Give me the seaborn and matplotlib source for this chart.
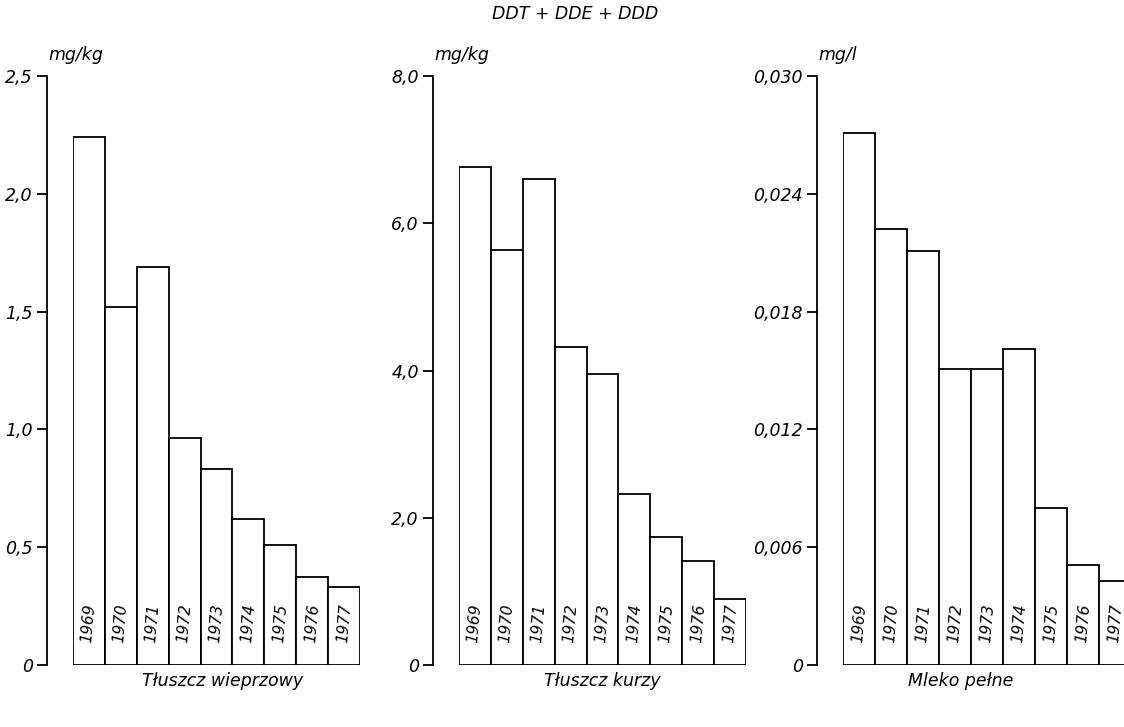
import matplotlib
matplotlib.use('Agg')
import matplotlib.pyplot as plt
import matplotlib.transforms as mtransforms
import seaborn as sns

years = ['1969', '1970', '1971', '1972', '1973', '1974', '1975', '1976', '1977']

pork_fat = [2.24, 1.52, 1.69, 0.965, 0.83, 0.62, 0.51, 0.375, 0.33]
chicken_fat = [6.76, 5.63, 6.60, 4.32, 3.95, 2.32, 1.74, 1.41, 0.90]
whole_milk = [0.0271, 0.0222, 0.0211, 0.0151, 0.0151, 0.0161, 0.0080, 0.0051, 0.0043]

pork_ticks = [0, 0.5, 1.0, 1.5, 2.0, 2.5]
pork_labels = ['0', '0,5', '1,0', '1,5', '2,0', '2,5']
chicken_ticks = [0, 2.0, 4.0, 6.0, 8.0]
chicken_labels = ['0', '2,0', '4,0', '6,0', '8,0']
milk_ticks = [0, 0.006, 0.012, 0.018, 0.024, 0.030]
milk_labels = ['0', '0,006', '0,012', '0,018', '0,024', '0,030']

panel_names = ['Tłuszcz wieprzowy', 'Tłuszcz kurzy', 'Mleko pełne']
units = ['mg/kg', 'mg/kg', 'mg/l']
title = 'DDT + DDE + DDD'


def draw_panel(ax, values, ticks, labels, unit, name, name_x):
    sns.barplot(x=years, y=values, ax=ax, color='white', edgecolor='black',
                linewidth=1.3, width=1.0, saturation=1)
    ax.set_ylim(0, ticks[-1])
    ax.set_xlim(-0.5, 8.5)
    # spine position first: moving it resets the tick labels
    for s in ['top', 'right', 'bottom']:
        ax.spines[s].set_visible(False)
    ax.spines['left'].set_position(('outward', 19))
    ax.spines['left'].set_linewidth(1.3)
    ax.spines['left'].set_color('black')
    ax.tick_params(axis='y', left=True, direction='out', length=7, width=1.3,
                   pad=3, color='black', labelsize=12.5, labelcolor='black')
    ax.set_yticks(ticks)
    ax.set_yticklabels(labels, fontstyle='italic')
    ax.set_xticks([])
    ax.set_ylabel('')
    ax.set_xlabel(name, fontstyle='italic', fontsize=12.5, color='black')
    ax.xaxis.set_label_coords(name_x, -0.012, transform=ax.transAxes)
    ax.xaxis.label.set_va('top')
    trans = mtransforms.blended_transform_factory(ax.transData, ax.transAxes)
    for i, yr in enumerate(years):
        ax.text(i, 0.071, yr, transform=trans, rotation=85, ha='center', va='center',
                fontsize=11, fontstyle='italic', color='black')
    ax.text(-0.085, 1.02, unit, transform=ax.transAxes, ha='left', va='bottom',
            fontsize=12.5, fontstyle='italic', color='black')
    ax.patch.set_visible(False)


def main():
    sns.set_style('white')
    plt.rcParams['font.family'] = ['DejaVu Sans']
    fig = plt.figure(figsize=(11.24, 7.27), dpi=100)
    bottom = 62 / 727
    height = 589 / 727
    ax1 = fig.add_axes([73 / 1124, bottom, 287 / 1124, height])
    ax2 = fig.add_axes([459 / 1124, bottom, 287 / 1124, height])
    ax3 = fig.add_axes([843 / 1124, bottom, 288 / 1124, height])

    draw_panel(ax1, pork_fat, pork_ticks, pork_labels, units[0], panel_names[0], 0.52)
    draw_panel(ax2, chicken_fat, chicken_ticks, chicken_labels, units[1], panel_names[1], 0.5)
    draw_panel(ax3, whole_milk, milk_ticks, milk_labels, units[2], panel_names[2], 0.41)

    fig.text(575 / 1124, 1 - 14 / 727, title, ha='center', va='center',
             fontsize=12.5, fontstyle='italic', color='black')
    fig.savefig('out.png', dpi=100, facecolor='white')


if __name__ == '__main__':
    main()
